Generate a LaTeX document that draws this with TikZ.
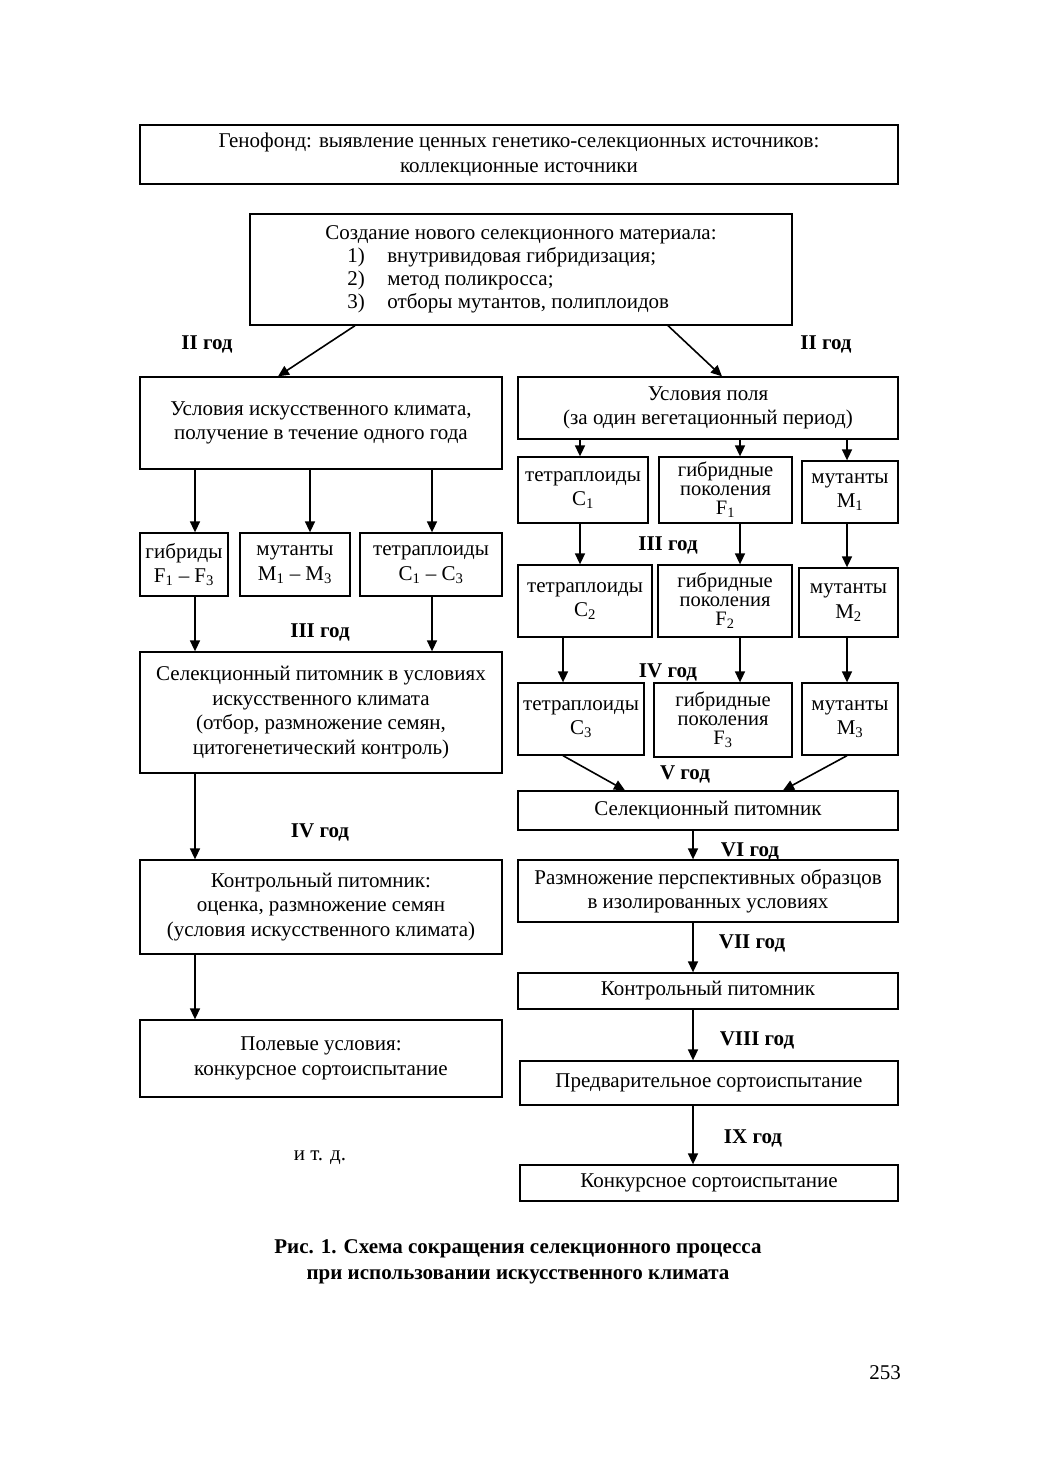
\documentclass[tikz,border=0pt]{standalone}
\usepackage{fontspec}
\setmainfont{Liberation Serif}
\usetikzlibrary{arrows.meta,calc}
\newcommand\bx[7][]{\node[box,#1,minimum width={#5-#3},minimum height={#6-#4}] (#2) at ({(#3+#5)/2},{(#4+#6)/2}) {#7};}
\newcommand\sub[1]{\textsubscript{#1}}
\begin{document}
\begin{tikzpicture}[x=1pt,y=-1pt,
  font=\fontsize{21}{24.5}\selectfont,
  box/.style={draw,line width=1.3pt,inner sep=0pt,align=center},
  tight/.style={font=\fontsize{20.5}{19}\selectfont},
  arr/.style={line width=1.6pt,-{Triangle[length=11pt,width=10pt]}},
  yr/.style={font=\fontsize{21}{22}\selectfont\bfseries,inner sep=0pt},
  plain/.style={inner sep=0pt,align=center}]
\useasboundingbox (0,0) rectangle (1039,1471);
% boxes
\bx{top}{140}{125}{898}{184}{Генофонд: выявление ценных генетико-селекционных источников:\\коллекционные источники}
\bx{create}{250}{214}{792}{325}{\begin{tabular}{@{}l@{}}Создание нового селекционного материала:\\[-1.5pt]
\hspace*{22pt}\makebox[40pt][l]{1)}внутривидовая гибридизация;\\[-1.5pt]
\hspace*{22pt}\makebox[40pt][l]{2)}метод поликросса;\\[-1.5pt]
\hspace*{22pt}\makebox[40pt][l]{3)}отборы мутантов, полиплоидов\end{tabular}}
\bx{L1}{140}{377}{502}{469}{Условия искусственного климата,\\получение в течение одного года}
\bx{R1}{518}{377}{898}{439}{Условия поля\\(за один вегетационный период)}
\bx{hyb}{140}{533}{228}{596}{гибриды\\F\sub{1} – F\sub{3}}
\bx{mut}{240}{533}{350}{596}{мутанты\\M\sub{1} – M\sub{3}}
\bx{tet}{360}{533}{502}{596}{тетраплоиды\\C\sub{1} – C\sub{3}}
\bx{Lsel}{140}{652}{502}{773}{Селекционный питомник в условиях\\искусственного климата\\(отбор, размножение семян,\\цитогенетический контроль)}
\bx{Lctrl}{140}{860}{502}{954}{Контрольный питомник:\\оценка, размножение семян\\(условия искусственного климата)}
\bx{Lfield}{140}{1020}{502}{1097}{Полевые условия:\\конкурсное сортоиспытание}
\bx{C1}{518}{457}{648}{523}{тетраплоиды\\C\sub{1}}
\bx[tight]{F1}{659}{457}{792}{523}{гибридные\\поколения\\F\sub{1}}
\bx{M1}{802}{461}{898}{523}{мутанты\\M\sub{1}}
\bx{C2}{518}{565}{652}{637}{тетраплоиды\\C\sub{2}}
\bx[tight]{F2}{658}{565}{792}{637}{гибридные\\поколения\\F\sub{2}}
\bx{M2}{799}{568}{898}{637}{мутанты\\M\sub{2}}
\bx{C3}{518}{683}{644}{755}{тетраплоиды\\C\sub{3}}
\bx[tight]{F3}{654}{683}{792}{757}{гибридные\\поколения\\F\sub{3}}
\bx{M3}{802}{683}{898}{755}{мутанты\\M\sub{3}}
\bx{Rsel}{518}{791}{898}{830}{Селекционный питомник}
\bx{Rrazm}{518}{860}{898}{922}{Размножение перспективных образцов\\в изолированных условиях}
\bx{Rctrl}{518}{973}{898}{1009}{Контрольный питомник}
\bx{Rpred}{520}{1061}{898}{1105}{Предварительное сортоиспытание}
\bx{Rkonk}{520}{1165}{898}{1201}{Конкурсное сортоиспытание}
% arrows
\draw[arr] (create.south -| 355,0) -- (L1.north -| 278,0);
\draw[arr] (create.south -| 668,0) -- (R1.north -| 722,0);
\draw[arr] (L1.south -| 195,0) -- (hyb.north -| 195,0);
\draw[arr] (L1.south -| 310,0) -- (mut.north -| 310,0);
\draw[arr] (L1.south -| 432,0) -- (tet.north -| 432,0);
\draw[arr] (hyb.south -| 195,0) -- (Lsel.north -| 195,0);
\draw[arr] (tet.south -| 432,0) -- (Lsel.north -| 432,0);
\draw[arr] (Lsel.south -| 195,0) -- (Lctrl.north -| 195,0);
\draw[arr] (Lctrl.south -| 195,0) -- (Lfield.north -| 195,0);
\draw[arr] (R1.south -| 580,0) -- (C1.north -| 580,0);
\draw[arr] (R1.south -| 740,0) -- (F1.north -| 740,0);
\draw[arr] (R1.south -| 847,0) -- (M1.north -| 847,0);
\draw[arr] (C1.south -| 580,0) -- (C2.north -| 580,0);
\draw[arr] (F1.south -| 740,0) -- (F2.north -| 740,0);
\draw[arr] (M1.south -| 847,0) -- (M2.north -| 847,0);
\draw[arr] (C2.south -| 563,0) -- (C3.north -| 563,0);
\draw[arr] (F2.south -| 740,0) -- (F3.north -| 740,0);
\draw[arr] (M2.south -| 847,0) -- (M3.north -| 847,0);
\draw[arr] (C3.south -| 563,0) -- (Rsel.north -| 625,0);
\draw[arr] (M3.south -| 847,0) -- (Rsel.north -| 783,0);
\draw[arr] (Rsel.south -| 693,0) -- (Rrazm.north -| 693,0);
\draw[arr] (Rrazm.south -| 693,0) -- (Rctrl.north -| 693,0);
\draw[arr] (Rctrl.south -| 693,0) -- (Rpred.north -| 693,0);
\draw[arr] (Rpred.south -| 693,0) -- (Rkonk.north -| 693,0);
% year labels
\node[yr] (yIIL) at (207,344) {II год};
\node[yr] (yIIR) at (826,344) {II год};
\node[yr] (yIIIL) at (320,632) {III год};
\node[yr] (yIVL) at (320,832) {IV год};
\node[yr] (yIIIR) at (668,545) {III год};
\node[yr] (yIVR) at (668,672) {IV год};
\node[yr] (yV) at (685,774) {V год};
\node[yr] (yVI) at (750,851) {VI год};
\node[yr] (yVII) at (752,943) {VII год};
\node[yr] (yVIII) at (757,1040) {VIII год};
\node[yr] (yIX) at (753,1138) {IX год};
\node[plain] (etc) at (320,1158) {и т. д.};
\node[plain,font=\fontsize{21}{26}\selectfont\bfseries] (cap) at (518,1262) {Рис. 1. Схема сокращения селекционного процесса\\при использовании искусственного климата};
\node[plain] (page) at (885,1373) {253};
\end{tikzpicture}
\end{document}
